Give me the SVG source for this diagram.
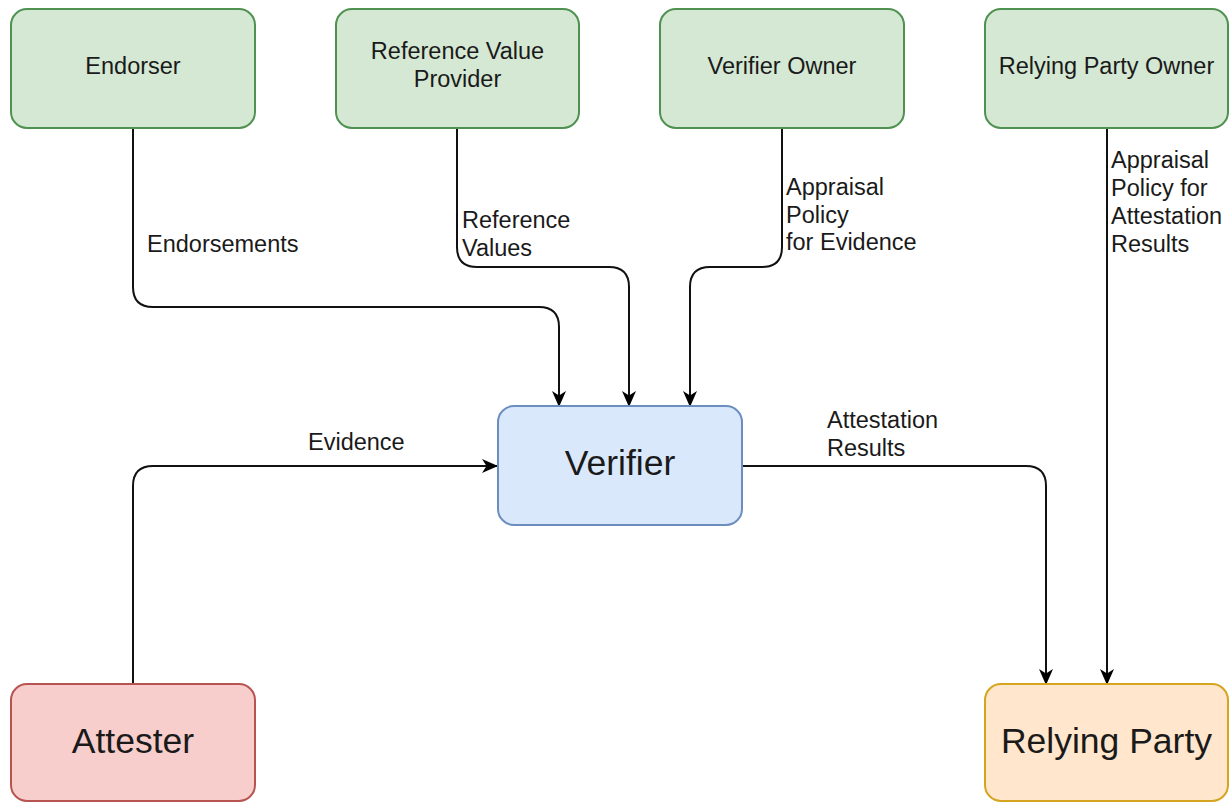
<svg xmlns="http://www.w3.org/2000/svg" width="1230" height="802" viewBox="0 0 1230 802">
<style>
.t{font-family:"Liberation Sans",Arial,Helvetica,sans-serif;fill:#1a1a1a}
.n{font-size:23.5px}
.b{font-size:35.5px}
.l{font-size:23.5px}
.g{fill:#d5e8d4;stroke:#4f9150;stroke-width:2}
.v{fill:#dae8fc;stroke:#6c8ebf;stroke-width:2}
.r{fill:#f8cecc;stroke:#b85450;stroke-width:2}
.o{fill:#ffe6cc;stroke:#d6a520;stroke-width:2}
.c{fill:none;stroke:#111;stroke-width:2;marker-end:url(#a)}
</style>
<defs>
<marker id="a" viewBox="0 0 16 16" refX="15" refY="8" markerWidth="16" markerHeight="16" markerUnits="userSpaceOnUse" orient="auto">
<path d="M0,1 L16,8 L0,15 L4.5,8 Z" fill="#000"/>
</marker>
</defs>
<g id="connectors">
<path class="c" d="M133,128 V287 Q133,307 153,307 H539 Q559,307 559,327 V406"/>
<path class="c" d="M457,128 V247 Q457,267 477,267 H609 Q629,267 629,287 V406"/>
<path class="c" d="M782,128 V247 Q782,267 762,267 H710 Q690,267 690,287 V406"/>
<path class="c" d="M133,684 V486 Q133,466 153,466 H497"/>
<path class="c" d="M742,466 H1026 Q1046,466 1046,486 V684"/>
<path class="c" d="M1107,128 V684"/>
<text class="t l" x="147" y="252">Endorsements</text>
<text class="t l" x="462" y="228">Reference</text>
<text class="t l" x="462" y="255.5">Values</text>
<text class="t l" x="786" y="195">Appraisal</text>
<text class="t l" x="786" y="222.5">Policy</text>
<text class="t l" x="786" y="250">for Evidence</text>
<text class="t l" x="1111" y="168">Appraisal</text>
<text class="t l" x="1111" y="196">Policy for</text>
<text class="t l" x="1111" y="224">Attestation</text>
<text class="t l" x="1111" y="252">Results</text>
<text class="t l" x="308" y="450">Evidence</text>
<text class="t l" x="827" y="428">Attestation</text>
<text class="t l" x="827" y="456">Results</text>
</g>
<g id="endorser">
<rect class="g" x="11" y="9" width="244" height="119" rx="16"/>
<text class="t n" x="133" y="73.5" text-anchor="middle">Endorser</text>
</g>
<g id="reference-value-provider">
<rect class="g" x="336" y="9" width="243" height="119" rx="16"/>
<text class="t n" x="457.5" y="59" text-anchor="middle">Reference Value</text>
<text class="t n" x="457.5" y="87" text-anchor="middle">Provider</text>
</g>
<g id="verifier-owner">
<rect class="g" x="660" y="9" width="244" height="119" rx="16"/>
<text class="t n" x="782" y="73.5" text-anchor="middle">Verifier Owner</text>
</g>
<g id="relying-party-owner">
<rect class="g" x="985" y="9" width="243" height="119" rx="16"/>
<text class="t n" x="1106.5" y="73.5" text-anchor="middle">Relying Party Owner</text>
</g>
<g id="verifier">
<rect class="v" x="498" y="406" width="244" height="119" rx="16"/>
<text class="t b" x="620" y="475" text-anchor="middle">Verifier</text>
</g>
<g id="attester">
<rect class="r" x="11" y="684" width="244" height="117" rx="16"/>
<text class="t b" x="133" y="753" text-anchor="middle">Attester</text>
</g>
<g id="relying-party">
<rect class="o" x="985" y="684" width="243" height="117" rx="16"/>
<text class="t b" x="1106.5" y="753" text-anchor="middle">Relying Party</text>
</g>
</svg>
